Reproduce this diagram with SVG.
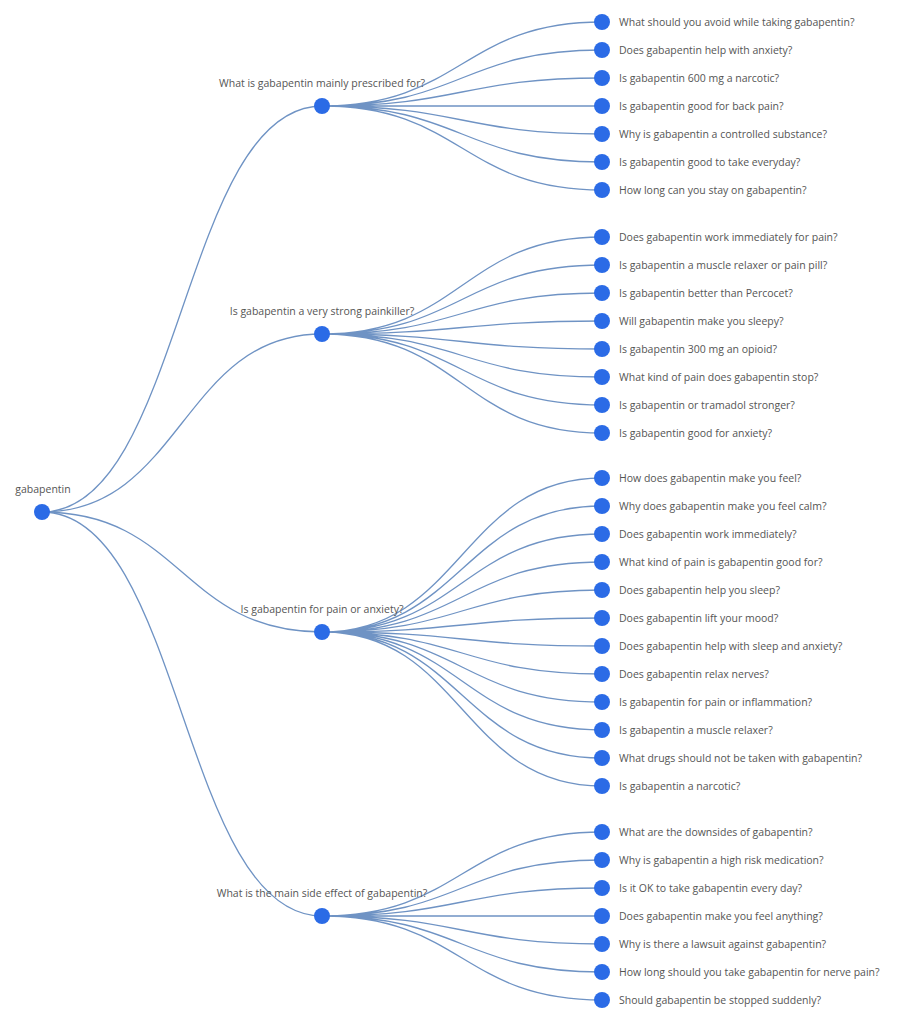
<svg xmlns="http://www.w3.org/2000/svg" width="907" height="1024" viewBox="0 0 907 1024">
<style>
.l{fill:none;stroke:#6f93c4;stroke-width:1.3}
.n{fill:#2b6be6}
text{font-family:"Open Sans","Liberation Sans",sans-serif;font-size:10.5px;fill:#555}
.m{text-anchor:middle}
</style>
<rect width="907" height="1024" fill="#fff"/>
<g id="connectors">
<path class="l" d="M42,512C182,512 182,106 322,106"/>
<path class="l" d="M42,512C182,512 182,334 322,334"/>
<path class="l" d="M42,512C182,512 182,632 322,632"/>
<path class="l" d="M42,512C182,512 182,916 322,916"/>
<path class="l" d="M322,106C462,106 462,22 602,22M322,106C462,106 462,50 602,50M322,106C462,106 462,78 602,78M322,106L602,106M322,106C462,106 462,134 602,134M322,106C462,106 462,162 602,162M322,106C462,106 462,190 602,190"/>
<path class="l" d="M322,334C462,334 462,237 602,237M322,334C462,334 462,265 602,265M322,334C462,334 462,293 602,293M322,334C462,334 462,321 602,321M322,334C462,334 462,349 602,349M322,334C462,334 462,377 602,377M322,334C462,334 462,405 602,405M322,334C462,334 462,433 602,433"/>
<path class="l" d="M322,632C462,632 462,478 602,478M322,632C462,632 462,506 602,506M322,632C462,632 462,534 602,534M322,632C462,632 462,562 602,562M322,632C462,632 462,590 602,590M322,632C462,632 462,618 602,618M322,632C462,632 462,646 602,646M322,632C462,632 462,674 602,674M322,632C462,632 462,702 602,702M322,632C462,632 462,730 602,730M322,632C462,632 462,758 602,758M322,632C462,632 462,786 602,786"/>
<path class="l" d="M322,916C462,916 462,832 602,832M322,916C462,916 462,860 602,860M322,916C462,916 462,888 602,888M322,916L602,916M322,916C462,916 462,944 602,944M322,916C462,916 462,972 602,972M322,916C462,916 462,1000 602,1000"/>
</g>
<g id="root"><circle class="n" cx="42" cy="512" r="8"/><text class="m" x="43" y="493">gabapentin</text></g>
<g id="m1"><circle class="n" cx="322" cy="106" r="8"/><text class="m" x="322" y="87">What is gabapentin mainly prescribed for?</text></g>
<g id="m2"><circle class="n" cx="322" cy="334" r="8"/><text class="m" x="322" y="315">Is gabapentin a very strong painkiller?</text></g>
<g id="m3"><circle class="n" cx="322" cy="632" r="8"/><text class="m" x="322" y="613">Is gabapentin for pain or anxiety?</text></g>
<g id="m4"><circle class="n" cx="322" cy="916" r="8"/><text class="m" x="322" y="897">What is the main side effect of gabapentin?</text></g>
<g id="leaves">
<circle class="n" cx="602" cy="22" r="8"/><text x="619" y="26">What should you avoid while taking gabapentin?</text>
<circle class="n" cx="602" cy="50" r="8"/><text x="619" y="54">Does gabapentin help with anxiety?</text>
<circle class="n" cx="602" cy="78" r="8"/><text x="619" y="82">Is gabapentin 600 mg a narcotic?</text>
<circle class="n" cx="602" cy="106" r="8"/><text x="619" y="110">Is gabapentin good for back pain?</text>
<circle class="n" cx="602" cy="134" r="8"/><text x="619" y="138">Why is gabapentin a controlled substance?</text>
<circle class="n" cx="602" cy="162" r="8"/><text x="619" y="166">Is gabapentin good to take everyday?</text>
<circle class="n" cx="602" cy="190" r="8"/><text x="619" y="194">How long can you stay on gabapentin?</text>
<circle class="n" cx="602" cy="237" r="8"/><text x="619" y="241">Does gabapentin work immediately for pain?</text>
<circle class="n" cx="602" cy="265" r="8"/><text x="619" y="269">Is gabapentin a muscle relaxer or pain pill?</text>
<circle class="n" cx="602" cy="293" r="8"/><text x="619" y="297">Is gabapentin better than Percocet?</text>
<circle class="n" cx="602" cy="321" r="8"/><text x="619" y="325">Will gabapentin make you sleepy?</text>
<circle class="n" cx="602" cy="349" r="8"/><text x="619" y="353">Is gabapentin 300 mg an opioid?</text>
<circle class="n" cx="602" cy="377" r="8"/><text x="619" y="381">What kind of pain does gabapentin stop?</text>
<circle class="n" cx="602" cy="405" r="8"/><text x="619" y="409">Is gabapentin or tramadol stronger?</text>
<circle class="n" cx="602" cy="433" r="8"/><text x="619" y="437">Is gabapentin good for anxiety?</text>
<circle class="n" cx="602" cy="478" r="8"/><text x="619" y="482">How does gabapentin make you feel?</text>
<circle class="n" cx="602" cy="506" r="8"/><text x="619" y="510">Why does gabapentin make you feel calm?</text>
<circle class="n" cx="602" cy="534" r="8"/><text x="619" y="538">Does gabapentin work immediately?</text>
<circle class="n" cx="602" cy="562" r="8"/><text x="619" y="566">What kind of pain is gabapentin good for?</text>
<circle class="n" cx="602" cy="590" r="8"/><text x="619" y="594">Does gabapentin help you sleep?</text>
<circle class="n" cx="602" cy="618" r="8"/><text x="619" y="622">Does gabapentin lift your mood?</text>
<circle class="n" cx="602" cy="646" r="8"/><text x="619" y="650">Does gabapentin help with sleep and anxiety?</text>
<circle class="n" cx="602" cy="674" r="8"/><text x="619" y="678">Does gabapentin relax nerves?</text>
<circle class="n" cx="602" cy="702" r="8"/><text x="619" y="706">Is gabapentin for pain or inflammation?</text>
<circle class="n" cx="602" cy="730" r="8"/><text x="619" y="734">Is gabapentin a muscle relaxer?</text>
<circle class="n" cx="602" cy="758" r="8"/><text x="619" y="762">What drugs should not be taken with gabapentin?</text>
<circle class="n" cx="602" cy="786" r="8"/><text x="619" y="790">Is gabapentin a narcotic?</text>
<circle class="n" cx="602" cy="832" r="8"/><text x="619" y="836">What are the downsides of gabapentin?</text>
<circle class="n" cx="602" cy="860" r="8"/><text x="619" y="864">Why is gabapentin a high risk medication?</text>
<circle class="n" cx="602" cy="888" r="8"/><text x="619" y="892">Is it OK to take gabapentin every day?</text>
<circle class="n" cx="602" cy="916" r="8"/><text x="619" y="920">Does gabapentin make you feel anything?</text>
<circle class="n" cx="602" cy="944" r="8"/><text x="619" y="948">Why is there a lawsuit against gabapentin?</text>
<circle class="n" cx="602" cy="972" r="8"/><text x="619" y="976">How long should you take gabapentin for nerve pain?</text>
<circle class="n" cx="602" cy="1000" r="8"/><text x="619" y="1004">Should gabapentin be stopped suddenly?</text>
</g>
</svg>
